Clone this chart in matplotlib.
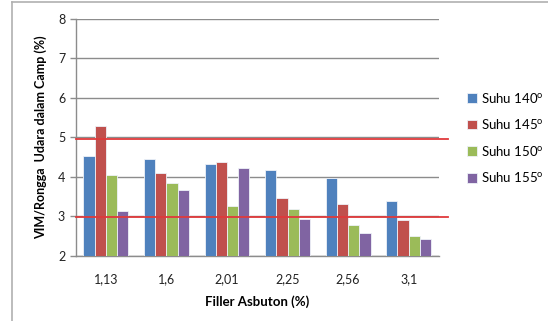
import matplotlib.pyplot as plt
import numpy as np

plt.rcParams['font.family'] = ['Lato', 'DejaVu Sans']

kadar_filler = ['1,13', '1,6', '2,01', '2,25', '2,56', '3,1']
suhu = ['140', '145', '150', '155']
vim_140 = [4.52, 4.46, 4.32, 4.17, 3.98, 3.38]
vim_145 = [5.30, 4.11, 4.37, 3.48, 3.32, 2.90]
vim_150 = [4.06, 3.86, 3.26, 3.18, 2.78, 2.50]
vim_155 = [3.15, 3.66, 4.23, 2.93, 2.58, 2.42]
batas_atas = 4.96
batas_bawah = 2.98

warna = ['#4F81BD', '#C0504D', '#9BBB59', '#8064A2']


def main():
    fig = plt.figure(figsize=(5.48, 3.21), dpi=100)
    ax = fig.add_axes([0.138, 0.2025, 0.663, 0.7385])

    x = np.arange(len(kadar_filler))
    lebar = 0.185
    data = [vim_140, vim_145, vim_150, vim_155]
    for i, (nilai, c) in enumerate(zip(data, warna)):
        ax.bar(x + (i - 1.5) * lebar, nilai, lebar, color=c,
               edgecolor='#eef2f8', linewidth=0.6,
               label='Suhu ' + suhu[i] + r'$^{\mathregular{o}}$', zorder=3)

    ax.axhline(batas_atas, xmin=0, xmax=1.025, color='#E0393B', lw=1.3,
               clip_on=False, zorder=4)
    ax.axhline(batas_bawah, xmin=0, xmax=1.025, color='#E0393B', lw=1.3,
               clip_on=False, zorder=4)

    ax.set_xlim(-0.5, len(kadar_filler) - 0.5)
    ax.set_ylim(2, 8)
    ax.set_yticks(range(2, 9))
    ax.yaxis.grid(True, color='#8c8c8c', lw=1.0, zorder=0)
    ax.set_xticks(x)
    ax.set_xticklabels(kadar_filler)
    ax.tick_params(axis='x', length=0, pad=12, labelsize=9, colors='#222222')
    ax.tick_params(axis='y', length=4, width=1, color='#8c8c8c',
                   labelsize=9, labelcolor='#222222')
    for s in ['top', 'right']:
        ax.spines[s].set_visible(False)
    for s in ['left', 'bottom']:
        ax.spines[s].set_color('#8c8c8c')
        ax.spines[s].set_linewidth(1.0)

    ax.set_xlabel('Filler Asbuton (%)', fontsize=9.5, fontweight='bold', labelpad=8)
    ax.set_ylabel('VIM/Rongga  Udara dalam Camp (%)', fontsize=9,
                  fontweight='bold', labelpad=8)

    ax.legend(loc='center left', bbox_to_anchor=(1.045, 0.5), frameon=False,
              fontsize=9.5, handlelength=0.75, handleheight=0.75,
              handletextpad=0.3, labelspacing=0.95)

    # bingkai grafik
    fig.add_artist(plt.Line2D([0.022, 0.022], [0, 0.995], color='#b0b0b0', lw=1.2))
    fig.add_artist(plt.Line2D([0.022, 1], [0.995, 0.995], color='#b0b0b0', lw=1.2))

    fig.savefig('out.png', dpi=100)


if __name__ == '__main__':
    main()
